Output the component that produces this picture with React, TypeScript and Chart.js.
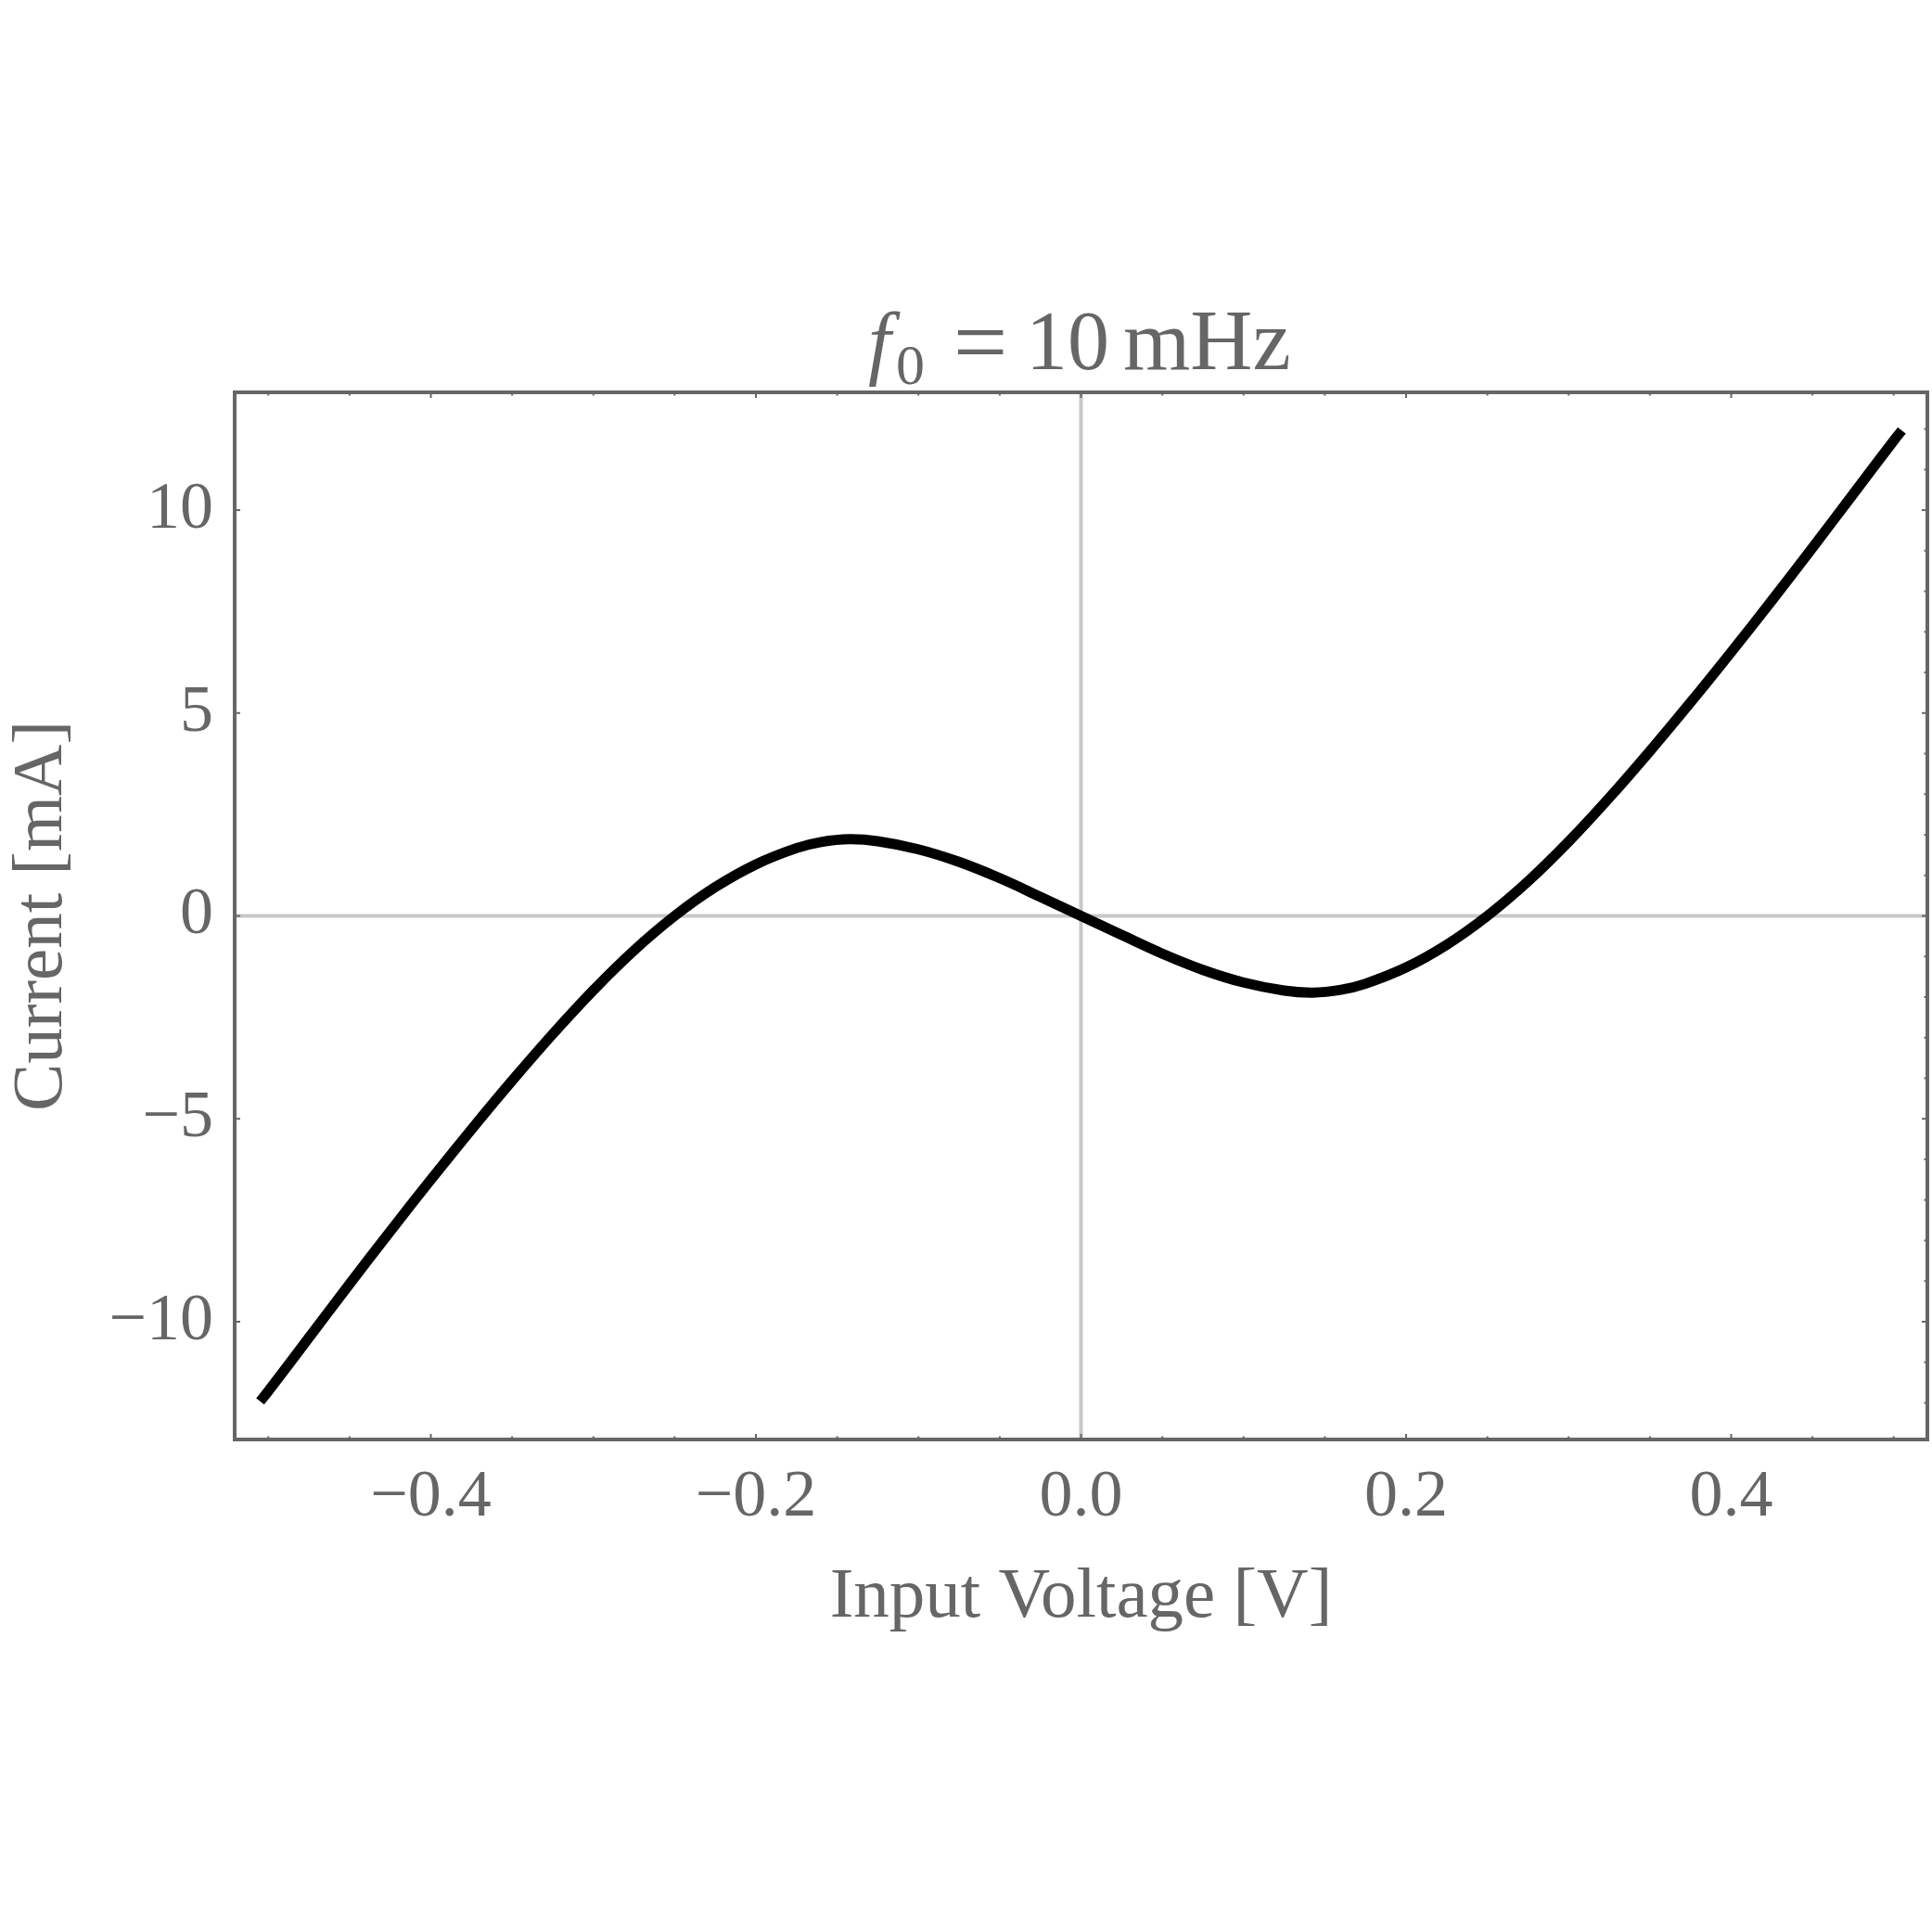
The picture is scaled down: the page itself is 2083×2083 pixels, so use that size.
import React, { useEffect, useRef } from "react";
import { Chart, registerables } from "chart.js";

Chart.register(...registerables);

const SIZE = 2083;

// I–V characteristic: input voltage [V] vs. current [mA]
const voltage = [
  -0.505, -0.5, -0.475, -0.45, -0.425, -0.4, -0.375, -0.35, -0.325, -0.3, -0.275,
  -0.25, -0.225, -0.2, -0.175, -0.16, -0.1425, -0.125, -0.1, -0.075, -0.05, -0.025,
  0, 0.025, 0.05, 0.075, 0.1, 0.125, 0.1425, 0.16, 0.175, 0.2, 0.225, 0.25, 0.275,
  0.3, 0.325, 0.35, 0.375, 0.4, 0.425, 0.45, 0.475, 0.5, 0.505,
];
const current = [
  -11.96, -11.71, -10.39, -9.07, -7.77, -6.5, -5.26, -4.06, -2.91, -1.83, -0.85,
  0.0, 0.71, 1.27, 1.67, 1.82, 1.89, 1.84, 1.64, 1.33, 0.93, 0.47,
  0, -0.47, -0.93, -1.33, -1.64, -1.84, -1.89, -1.82, -1.67, -1.27, -0.71, 0.0, 0.85,
  1.83, 2.91, 4.06, 5.26, 6.5, 7.77, 9.07, 10.39, 11.71, 11.96,
];

const xTickValues = [-0.4, -0.2, 0, 0.2, 0.4];
const yTickValues = [-10, -5, 0, 5, 10];
const xMinorTicks = [
  -0.5, -0.45, -0.4, -0.35, -0.3, -0.25, -0.2, -0.15, -0.1, -0.05, 0,
  0.05, 0.1, 0.15, 0.2, 0.25, 0.3, 0.35, 0.4, 0.45, 0.5,
];
const yMinorTicks = [
  -12, -11, -10, -9, -8, -7, -6, -5, -4, -3, -2, -1, 0,
  1, 2, 3, 4, 5, 6, 7, 8, 9, 10, 11, 12,
];
const xRange = [-0.5207, 0.5207];
const yRange = [-12.9, 12.9];

const xAxisTitle = "Input Voltage [V]";
const yAxisTitle = "Current [mA]";

const TEXT = "#666666";
const FRAME = "#666666";
const ZERO_LINE = "#c8c8c8";
const SERIF = '"Liberation Serif", "DejaVu Serif", serif';

const minus = (s: string) => s.replace("-", "\u2212");
const fmtX = (v: number) => minus(v.toFixed(1)).replace("\u22120.0", "0.0");
const fmtY = (v: number) => minus(String(v));

const framePlugin = {
  id: "frameAndText",
  beforeDatasetsDraw(chart: any) {
    const { ctx, chartArea: a, scales } = chart;
    const x0 = scales.x.getPixelForValue(0);
    const y0 = scales.y.getPixelForValue(0);
    ctx.save();
    ctx.strokeStyle = ZERO_LINE;
    ctx.lineWidth = 4;
    ctx.beginPath();
    ctx.moveTo(x0, a.top);
    ctx.lineTo(x0, a.bottom);
    ctx.moveTo(a.left, y0);
    ctx.lineTo(a.right, y0);
    ctx.stroke();
    ctx.restore();
  },
  afterDatasetsDraw(chart: any) {
    const { ctx, chartArea: a, scales } = chart;
    ctx.save();
    ctx.strokeStyle = FRAME;
    ctx.lineWidth = 2;
    // inward ticks: minor ticks on top, bottom and right; major only on the left
    ctx.beginPath();
    for (const v of xMinorTicks) {
      const px = scales.x.getPixelForValue(v);
      const len = xTickValues.some((t) => Math.abs(t - v) < 1e-9) ? 6 : 3.5;
      ctx.moveTo(px, a.bottom);
      ctx.lineTo(px, a.bottom - len);
      ctx.moveTo(px, a.top);
      ctx.lineTo(px, a.top + len);
    }
    for (const v of yMinorTicks) {
      const py = scales.y.getPixelForValue(v);
      const major = yTickValues.includes(v);
      const len = major ? 6 : 3.5;
      if (major) {
        ctx.moveTo(a.left, py);
        ctx.lineTo(a.left + len, py);
      }
      ctx.moveTo(a.right, py);
      ctx.lineTo(a.right - len, py);
    }
    ctx.stroke();
    ctx.lineWidth = 4;
    ctx.strokeRect(a.left, a.top, a.right - a.left, a.bottom - a.top);
    ctx.restore();
  },
  afterDraw(chart: any) {
    const { ctx, chartArea: a } = chart;
    ctx.save();
    ctx.fillStyle = TEXT;
    ctx.textBaseline = "alphabetic";

    // title: f0 = 10 mHz
    ctx.textAlign = "left";
    ctx.font = `italic 88px ${SERIF}`;
    ctx.fillText("f", 936, 398);
    ctx.font = `62px ${SERIF}`;
    ctx.fillText("0", 966, 414);
    ctx.font = `104px ${SERIF}`;
    ctx.textAlign = "center";
    ctx.fillText("=", 1057, 404);
    ctx.textAlign = "left";
    ctx.font = `90px ${SERIF}`;
    ctx.fillText("10", 1106, 398);
    ctx.font = `93px ${SERIF}`;
    ctx.fillText("mHz", 1211, 398);

    // axis titles
    ctx.font = `77px ${SERIF}`;
    ctx.textAlign = "center";
    ctx.fillText(xAxisTitle, (a.left + a.right) / 2, 1743);
    ctx.translate(66, (a.top + a.bottom) / 2);
    ctx.rotate(-Math.PI / 2);
    ctx.fillText(yAxisTitle, 0, 0);
    ctx.restore();
  },
};

export default function App() {
  const canvasRef = useRef<HTMLCanvasElement | null>(null);

  useEffect(() => {
    const canvas = canvasRef.current;
    if (!canvas) return;
    const points = voltage.map((v, i) => ({ x: v, y: current[i] }));
    const chart = new Chart(canvas, {
      type: "line",
      data: {
        datasets: [
          {
            data: points,
            borderColor: "#000000",
            borderWidth: 11,
            pointRadius: 0,
            tension: 0.4,
            fill: false,
          },
        ],
      },
      options: {
        animation: false,
        responsive: false,
        devicePixelRatio: 1,
        layout: { padding: { top: 423, right: 5, left: 0, bottom: 0 } },
        plugins: {
          legend: { display: false },
          title: { display: false },
          tooltip: { enabled: false },
        },
        scales: {
          x: {
            type: "linear",
            min: xRange[0],
            max: xRange[1],
            grid: { display: false, drawTicks: false },
            border: { display: false },
            afterBuildTicks: (scale: any) => {
              scale.ticks = xTickValues.map((value) => ({ value }));
            },
            afterFit: (scale: any) => {
              scale.height = SIZE - 1552;
            },
            ticks: {
              autoSkip: false,
              maxRotation: 0,
              padding: 20,
              color: TEXT,
              font: { family: SERIF, size: 72 },
              callback: (v: any) => fmtX(Number(v)),
            },
          },
          y: {
            type: "linear",
            min: yRange[0],
            max: yRange[1],
            grid: { display: false, drawTicks: false },
            border: { display: false },
            afterBuildTicks: (scale: any) => {
              scale.ticks = yTickValues.map((value) => ({ value }));
            },
            afterFit: (scale: any) => {
              scale.width = 253;
            },
            ticks: {
              autoSkip: false,
              padding: 23,
              color: TEXT,
              font: { family: SERIF, size: 72 },
              callback: (v: any) => fmtY(Number(v)),
            },
          },
        },
      },
      plugins: [framePlugin],
    } as any);
    return () => chart.destroy();
  }, []);

  return (
    <div style={{ position: "absolute", left: 0, top: 0, width: SIZE, height: SIZE, background: "#ffffff" }}>
      <canvas ref={canvasRef} width={SIZE} height={SIZE} style={{ width: SIZE, height: SIZE, display: "block" }} />
    </div>
  );
}
